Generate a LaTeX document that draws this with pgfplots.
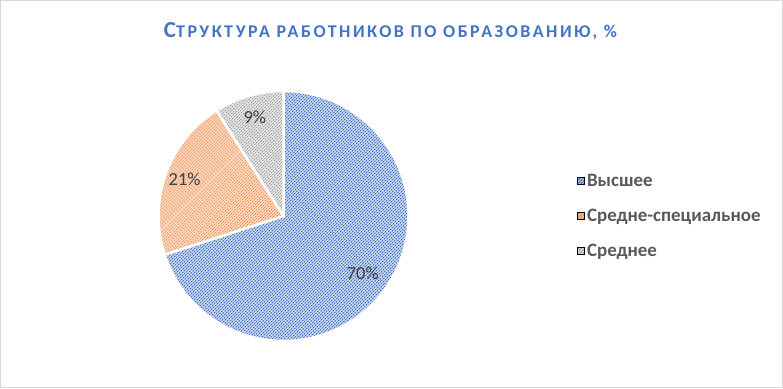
\documentclass[border=0pt]{standalone}
\usepackage{fontspec}
\setmainfont{Carlito}
\usepackage{pgfplots}
\pgfplotsset{compat=1.18}
\usepackage{pgfplotstable}
\usetikzlibrary{patterns.meta,calc}
\definecolor{cBlue}{HTML}{4472C4}
\definecolor{cOrange}{HTML}{ED7D31}
\definecolor{cGray}{HTML}{A5A5A5}
\definecolor{cLabel}{HTML}{404040}
\definecolor{cLegend}{HTML}{595959}
\definecolor{cFrame}{HTML}{D9D9D9}

\pgfplotstableread{
name value
A 70
B 21
C 9
}\piedata

\tikzset{
  slice/.style={preaction={fill=#1!30}, pattern={Lines[angle=45,distance=2.83bp,line width=1.3bp]}, pattern color=#1, draw=white, line width=2.5bp, line join=round},
  sw/.style={preaction={fill=#1!40}, pattern={Lines[angle=45,distance=2.2bp,line width=0.9bp]}, pattern color=#1}
}

\begin{document}
\begin{tikzpicture}
\pgfplotstablegetelem{0}{value}\of\piedata\edef\vA{\pgfplotsretval}
\pgfplotstablegetelem{1}{value}\of\piedata\edef\vB{\pgfplotsretval}
\pgfplotstablegetelem{2}{value}\of\piedata\edef\vC{\pgfplotsretval}
\pgfmathsetmacro\aS{90}
\pgfmathsetmacro\aA{\aS-3.6*\vA}
\pgfmathsetmacro\aB{\aA-3.6*\vB}
\pgfmathsetmacro\aC{\aB-3.6*\vC}
\pgfmathsetmacro\mA{(\aS+\aA)/2}
\pgfmathsetmacro\mB{(\aA+\aB)/2}
\pgfmathsetmacro\mC{(\aB+\aC)/2}
\def\cx{283.5}\def\cy{172}\def\R{125}
\begin{axis}[
  x=1bp, y=1bp, xmin=0, xmax=783, ymin=0, ymax=388,
  hide axis, clip=false,
  legend style={at={(axis cs:574,172)}, anchor=west, draw=none, fill=none,
    font=\fontsize{19}{22}\selectfont\bfseries\color{cLegend}, row sep=17bp},
  legend cell align=left,
]
\addlegendimage{legend image code/.code={\path[sw=cBlue] (-3bp,-3.5bp) rectangle (4bp,3.5bp);}}
\addlegendentry{Высшее}
\addlegendimage{legend image code/.code={\path[sw=cOrange] (-3bp,-3.5bp) rectangle (4bp,3.5bp);}}
\addlegendentry{Средне-специальное}
\addlegendimage{legend image code/.code={\path[sw=cGray] (-3bp,-3.5bp) rectangle (4bp,3.5bp);}}
\addlegendentry{Среднее}

\path[slice=cBlue] (axis cs:\cx,\cy) -- ++(\aS:\R bp) arc[start angle=\aS, end angle=\aA, radius=\R bp] -- cycle;
\path[slice=cOrange] (axis cs:\cx,\cy) -- ++(\aA:\R bp) arc[start angle=\aA, end angle=\aB, radius=\R bp] -- cycle;
\path[slice=cGray] (axis cs:\cx,\cy) -- ++(\aB:\R bp) arc[start angle=\aB, end angle=\aC, radius=\R bp] -- cycle;

\node[text=cLabel, font=\fontsize{18.5}{20}\selectfont] at ($(axis cs:\cx,\cy)+(\mA:98bp)$) {\vA\%};
\node[text=cLabel, font=\fontsize{18.5}{20}\selectfont] at ($(axis cs:\cx,\cy)+(\mB:103bp)+(-2bp,2bp)$) {\vB\%};
\node[text=cLabel, font=\fontsize{18.5}{20}\selectfont] at ($(axis cs:\cx,\cy)+(\mC:103bp)$) {\vC\%};

\node[text=cBlue, font=\bfseries\addfontfeature{LetterSpace=14}] at (axis cs:390.5,357)
  {{\fontsize{23}{26}\selectfont С}{\fontsize{18}{20}\selectfont ТРУКТУРА РАБОТНИКОВ ПО ОБРАЗОВАНИЮ, \%}};

\draw[cFrame, line width=1bp] (axis cs:0.5,0.5) rectangle (axis cs:782.5,387.5);
\end{axis}
\end{tikzpicture}
\end{document}
